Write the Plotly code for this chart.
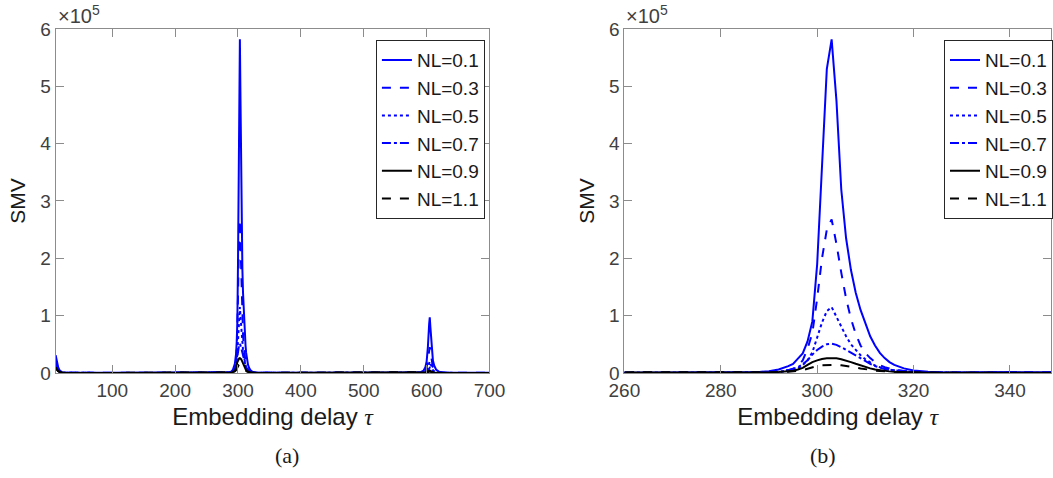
import plotly.graph_objects as go
from plotly.subplots import make_subplots

# embedding delay samples (sparse where the curves are flat)
tau = [10, 12, 14, 16, 18, 20, 25, 30, 50, 100, 200, 260, 270, 280, 285, 288,
       290, 292, 294, 295, 296, 297, 298, 299, 300, 301, 302, 303, 304, 305,
       306, 307, 308, 309, 310, 311, 312, 313, 314, 315, 316, 318, 320, 323,
       326, 330, 335, 340, 350, 400, 500, 580, 590, 595, 598, 600, 602, 604,
       605, 606, 608, 610, 612, 615, 620, 630, 650, 700]

# SMV in units of 1e5
smv_01 = [0.31, 0.18, 0.10, 0.05, 0.025, 0.012, 0.005, 0.003, 0.002, 0.002, 0.002, 0.003, 0.004, 0.008, 0.012, 0.018,
          0.03, 0.06, 0.12, 0.16, 0.25, 0.34, 0.55, 0.9, 1.9, 3.7, 5.3, 5.82, 4.75, 3.2,
          2.35, 1.8, 1.4, 1.1, 0.85, 0.64, 0.48, 0.35, 0.26, 0.19, 0.14, 0.08, 0.045, 0.02,
          0.01, 0.006, 0.004, 0.003, 0.002, 0.002, 0.002, 0.003, 0.01, 0.04, 0.1, 0.2, 0.45, 0.85,
          0.97, 0.8, 0.4, 0.22, 0.13, 0.06, 0.02, 0.005, 0.002, 0.002]
smv_03 = [0.20, 0.12, 0.07, 0.035, 0.018, 0.01, 0.004, 0.002, 0.002, 0.002, 0.002, 0.002, 0.003, 0.006, 0.009, 0.013,
          0.018, 0.03, 0.05, 0.07, 0.12, 0.22, 0.42, 0.7, 1.3, 2.0, 2.5, 2.68, 2.25, 1.75,
          1.3, 0.95, 0.68, 0.48, 0.35, 0.26, 0.19, 0.14, 0.10, 0.08, 0.06, 0.035, 0.02, 0.01,
          0.007, 0.004, 0.003, 0.002, 0.002, 0.002, 0.002, 0.002, 0.006, 0.02, 0.05, 0.1, 0.22, 0.4,
          0.45, 0.38, 0.2, 0.1, 0.06, 0.03, 0.01, 0.003, 0.002, 0.002]
smv_05 = [0.15, 0.09, 0.05, 0.028, 0.014, 0.008, 0.003, 0.002, 0.001, 0.001, 0.001, 0.002, 0.002, 0.004, 0.006, 0.008,
          0.011, 0.018, 0.03, 0.04, 0.08, 0.14, 0.22, 0.36, 0.62, 0.88, 1.08, 1.15, 0.98, 0.8,
          0.64, 0.5, 0.4, 0.31, 0.24, 0.18, 0.13, 0.10, 0.075, 0.058, 0.045, 0.028, 0.016, 0.008,
          0.005, 0.003, 0.002, 0.002, 0.001, 0.001, 0.001, 0.002, 0.004, 0.01, 0.025, 0.045, 0.1, 0.18,
          0.2, 0.17, 0.09, 0.05, 0.03, 0.015, 0.005, 0.002, 0.001, 0.001]
smv_07 = [0.12, 0.07, 0.04, 0.025, 0.012, 0.006, 0.003, 0.002, 0.001, 0.001, 0.001, 0.001, 0.002, 0.003, 0.005, 0.007,
          0.01, 0.02, 0.05, 0.07, 0.10, 0.15, 0.22, 0.32, 0.40, 0.46, 0.50, 0.51, 0.49, 0.45,
          0.40, 0.35, 0.30, 0.25, 0.20, 0.16, 0.12, 0.09, 0.07, 0.055, 0.045, 0.03, 0.018, 0.01,
          0.006, 0.003, 0.002, 0.002, 0.001, 0.001, 0.001, 0.001, 0.003, 0.006, 0.012, 0.02, 0.045, 0.08,
          0.09, 0.075, 0.04, 0.022, 0.014, 0.007, 0.003, 0.001, 0.001, 0.001]
smv_09 = [0.10, 0.06, 0.035, 0.02, 0.01, 0.005, 0.002, 0.001, 0.001, 0.001, 0.001, 0.001, 0.001, 0.002, 0.003, 0.005,
          0.01, 0.018, 0.03, 0.04, 0.06, 0.09, 0.14, 0.19, 0.22, 0.245, 0.255, 0.26, 0.255, 0.24,
          0.22, 0.19, 0.16, 0.13, 0.10, 0.08, 0.06, 0.045, 0.035, 0.028, 0.022, 0.014, 0.009, 0.005,
          0.003, 0.002, 0.001, 0.001, 0.001, 0.001, 0.001, 0.001, 0.002, 0.004, 0.008, 0.012, 0.025, 0.04,
          0.045, 0.038, 0.02, 0.011, 0.007, 0.004, 0.002, 0.001, 0.001, 0.001]
smv_11 = [0.08, 0.05, 0.03, 0.02, 0.01, 0.005, 0.002, 0.001, 0.001, 0.001, 0.001, 0.001, 0.001, 0.002, 0.003, 0.004,
          0.007, 0.012, 0.02, 0.027, 0.035, 0.05, 0.075, 0.10, 0.12, 0.135, 0.142, 0.145, 0.143, 0.135,
          0.125, 0.11, 0.095, 0.08, 0.065, 0.052, 0.042, 0.034, 0.027, 0.022, 0.018, 0.012, 0.008, 0.005,
          0.003, 0.002, 0.001, 0.001, 0.001, 0.001, 0.001, 0.001, 0.002, 0.003, 0.005, 0.008, 0.014, 0.022,
          0.025, 0.021, 0.012, 0.007, 0.004, 0.002, 0.001, 0.001, 0.001, 0.001]

series = [
    ("NL=0.1", smv_01, "#0000ff", "solid"),
    ("NL=0.3", smv_03, "#0000ff", "dash"),
    ("NL=0.5", smv_05, "#0000ff", "dot"),
    ("NL=0.7", smv_07, "#0000ff", "dashdot"),
    ("NL=0.9", smv_09, "#000000", "solid"),
    ("NL=1.1", smv_11, "#000000", "dash"),
]

AXIS_COL = "#8c8c8c"
TICK_COL = "#404040"
FONT = "Liberation Sans, Arial, sans-serif"
SERIF = "Liberation Serif, DejaVu Serif, serif"

fig = make_subplots(rows=1, cols=2)

for col, leg in [(1, "legend"), (2, "legend2")]:
    for name, vals, color, dash in series:
        fig.add_trace(
            go.Scatter(
                x=tau, y=vals, mode="lines", name=name,
                line=dict(color=color, dash=dash, width=2),
                legend=leg, legendgroup=f"{leg}-{name}",
            ),
            row=1, col=col,
        )

_axis = dict(
    showline=True, linecolor=AXIS_COL, linewidth=1, mirror="ticks",
    ticks="inside", ticklen=8, tickcolor=AXIS_COL,
    showgrid=False, zeroline=False, automargin=False,
    tickfont=dict(family=FONT, size=19, color=TICK_COL),
)

xtitle = dict(
    text='Embedding delay <span style="font-family:Liberation Serif, serif;font-style:italic">τ</span>',
    font=dict(family=FONT, size=24, color="#1a1a1a"), standoff=8,
)
ytitle = dict(text="SMV", font=dict(family=FONT, size=21, color="#1a1a1a"), standoff=8)

fig.update_xaxes(_axis)
fig.update_yaxes(_axis)
fig.update_xaxes(domain=[0.0529, 0.4653], range=[10, 700], dtick=100, tick0=0, title=xtitle, row=1, col=1)
fig.update_xaxes(domain=[0.5935, 0.999], range=[260, 348.5], dtick=20, tick0=0, title=xtitle, row=1, col=2)
fig.update_yaxes(domain=[0.2197, 0.9393], range=[0, 6], dtick=1, title=ytitle)

_legend = dict(
    xanchor="left", yanchor="top", y=0.916,
    bgcolor="white", bordercolor="#262626", borderwidth=1,
    font=dict(family=FONT, size=19, color="#1a1a1a"),
    traceorder="grouped", tracegroupgap=0, itemwidth=30,
)

fig.update_layout(
    width=1053, height=478,
    margin=dict(l=0, r=0, t=0, b=0),
    paper_bgcolor="white", plot_bgcolor="white",
    showlegend=True,
    legend=dict(_legend, x=0.357),
    legend2=dict(_legend, x=0.8974),
)

for xpos in [0.0529, 0.5935]:
    fig.add_annotation(
        x=xpos, y=1.0, xref="paper", yref="paper", xanchor="left", yanchor="top",
        text="×10<sup>5</sup>", showarrow=False,
        font=dict(family=FONT, size=20, color=TICK_COL),
    )

for xmid, lab in [((0.0529 + 0.4653) / 2, "(a)"), ((0.5935 + 0.999) / 2, "(b)")]:
    fig.add_annotation(x=xmid, y=0.048, xref="paper", yref="paper", yanchor="middle",
                       text=lab, showarrow=False, font=dict(family=SERIF, size=22, color="#1a1a1a"))

fig.write_html("out.html", config={"displayModeBar": False},
               post_script="document.body.style.margin='0';")
